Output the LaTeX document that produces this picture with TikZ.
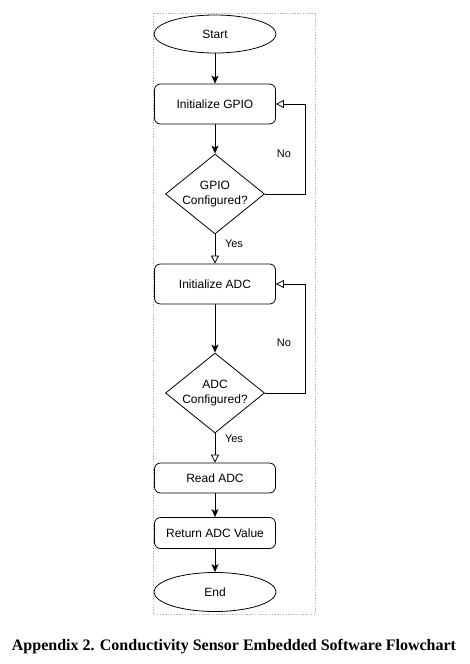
\documentclass[tikz,border=0pt]{standalone}
\usepackage{fontspec}
\setmainfont{Liberation Sans}
\newfontfamily\captionfont{Liberation Serif}
\usetikzlibrary{shapes.geometric,arrows.meta}

\begin{document}
\begin{tikzpicture}[x=1pt,y=-1pt]
    % Define flowchart shapes
    \tikzstyle{terminal}=[draw, ellipse, line width=0.8pt, minimum width=122pt, minimum height=38pt, font=\fontsize{12}{14}\selectfont]
    \tikzstyle{process}=[draw, rectangle, rounded corners=6pt, line width=0.8pt, minimum width=121pt, minimum height=40pt, font=\fontsize{12}{14}\selectfont]
    \tikzstyle{decision}=[draw, diamond, line width=0.8pt, shape aspect=1.25, inner sep=0pt, minimum width=99pt, minimum height=80pt, align=center, font=\fontsize{12}{15}\selectfont]
    \tikzstyle{flow}=[line width=0.8pt, -{Stealth[length=8pt,width=7pt,inset=2pt]}]
    \tikzstyle{loop}=[line width=0.8pt, -{Triangle[open,length=8pt,width=8pt,fill=white]}]
    \tikzstyle{answer}=[font=\fontsize{11}{13}\selectfont]

    % Page and frame
    \useasboundingbox (0,0) rectangle (469,664);
    \draw[gray!55, line width=0.8pt, dash pattern=on 1.4pt off 1.4pt] (153,13) rectangle (315,614);

    % Place steps
    \node[terminal] (start) at (215,34) {Start};
    \node[process] (initgpio) at (215,104) {Initialize GPIO};
    \node[decision] (gpiook) at (215,194) {GPIO\\Configured?};
    \node[process] (initadc) at (215,284) {Initialize ADC};
    \node[decision] (adcok) at (215,393) {ADC\\Configured?};
    \node[process, minimum height=30pt] (readadc) at (215,478) {Read ADC};
    \node[process, minimum height=31pt] (retadc) at (215,533) {Return ADC Value};
    \node[terminal, minimum height=39pt] (stop) at (215,592) {End};

    % Connect steps
    \draw[flow] (start) -- (initgpio);
    \draw[flow] (initgpio) -- (gpiook);
    \draw[loop] (gpiook) -- (initadc);
    \draw[flow] (initadc) -- (adcok);
    \draw[loop] (adcok) -- (readadc);
    \draw[flow] (readadc) -- (retadc);
    \draw[flow] (retadc) -- (stop);

    % Retry loops
    \draw[loop] (gpiook.east) -- ++(40,0) |- (initgpio.east);
    \draw[loop] (adcok.east) -- ++(40,0) |- (initadc.east);

    % Answer labels
    \node[answer] (nogpio) at (284,154) {No};
    \node[answer] (yesgpio) at (234,244) {Yes};
    \node[answer] (noadc) at (284,343) {No};
    \node[answer] (yesadc) at (234,439) {Yes};

    % Caption
    \node[font=\captionfont\bfseries\fontsize{16}{18}\selectfont] (caption) at (234,647) {Appendix 2. Conductivity Sensor Embedded Software Flowchart};
\end{tikzpicture}
\end{document}
